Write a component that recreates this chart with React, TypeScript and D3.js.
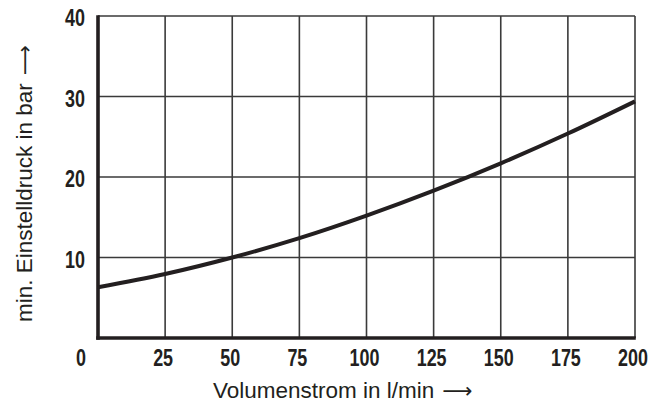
import React from "react";
import * as d3 from "d3";

const flowTicks = [0, 25, 50, 75, 100, 125, 150, 175, 200];
const pressureTicks = [10, 20, 30, 40];
const flowValues = [0, 25, 50, 75, 100, 125, 150, 175, 200];
const pressureValues = [6.3, 7.95, 10.0, 12.4, 15.2, 18.3, 21.7, 25.4, 29.4];
const xTitle = "Volumenstrom in l/min";
const yTitle = "min. Einstelldruck in bar";
const arrow = "⟶";

const W = 651;
const H = 403;
const M = { left: 98, right: 16, top: 16, bottom: 65 };

export default function App() {
  const x = d3.scaleLinear().domain([0, 200]).range([M.left, W - M.right]);
  const y = d3.scaleLinear().domain([0, 40]).range([H - M.bottom, M.top]);
  const pts = flowValues.map((f, i) => [f, pressureValues[i]] as [number, number]);
  const line = d3
    .line<[number, number]>()
    .x((d) => x(d[0]))
    .y((d) => y(d[1]))
    .curve(d3.curveMonotoneX);
  const grid = "#3a3a3a";
  const tickFont = "'Liberation Sans', Arial, sans-serif";
  const titleFont = "'Liberation Sans', Arial, sans-serif";
  const sx = 0.78;
  return (
    <svg
      width={W}
      height={H}
      style={{ position: "absolute", left: 0, top: 0, background: "#fff" }}
    >
      {flowTicks.slice(1).map((t) => (
        <line key={"vx" + t} x1={x(t)} x2={x(t)} y1={y(0)} y2={y(40)} stroke={grid} strokeWidth={1.6} />
      ))}
      {pressureTicks.map((t) => (
        <line key={"hy" + t} x1={x(0)} x2={x(200)} y1={y(t)} y2={y(t)} stroke={grid} strokeWidth={1.6} />
      ))}
      <line x1={x(0)} x2={x(0)} y1={y(40) - 0.8} y2={y(0) + 1.8} stroke="#231f20" strokeWidth={3.6} />
      <line x1={x(0) - 1.8} x2={x(200) + 0.8} y1={y(0)} y2={y(0)} stroke="#231f20" strokeWidth={3.6} />
      <path d={line(pts) || ""} fill="none" stroke="#231f20" strokeWidth={4} />
      {flowTicks.map((t) => (
        <text
          key={"xl" + t}
          transform={`translate(${t === 0 ? x(0) - 17 : x(t) - 2}, 366) scale(${sx}, 1)`}
          textAnchor="middle"
          fontFamily={tickFont}
          fontWeight="bold"
          fontSize={23}
          fill="#231f20"
        >
          {t}
        </text>
      ))}
      {pressureTicks.map((t) => (
        <text
          key={"yl" + t}
          transform={`translate(85, ${y(t) + 10}) scale(${sx}, 1)`}
          textAnchor="end"
          fontFamily={tickFont}
          fontWeight="bold"
          fontSize={23}
          fill="#231f20"
        >
          {t}
        </text>
      ))}
      <text
        x={213}
        y={398}
        textAnchor="start"
        fontFamily={titleFont}
        fontSize={22.5}
        fill="#231f20"
      >
        {xTitle}
        <tspan fontFamily="'DejaVu Sans', sans-serif" fontSize={21} dx={8}>{arrow}</tspan>
      </text>
      <text
        transform={`translate(32, 322) rotate(-90)`}
        textAnchor="start"
        fontFamily={titleFont}
        fontSize={22.5}
        fill="#231f20"
      >
        {yTitle}
        <tspan fontFamily="'DejaVu Sans', sans-serif" fontSize={21} dx={8}>{arrow}</tspan>
      </text>
    </svg>
  );
}
